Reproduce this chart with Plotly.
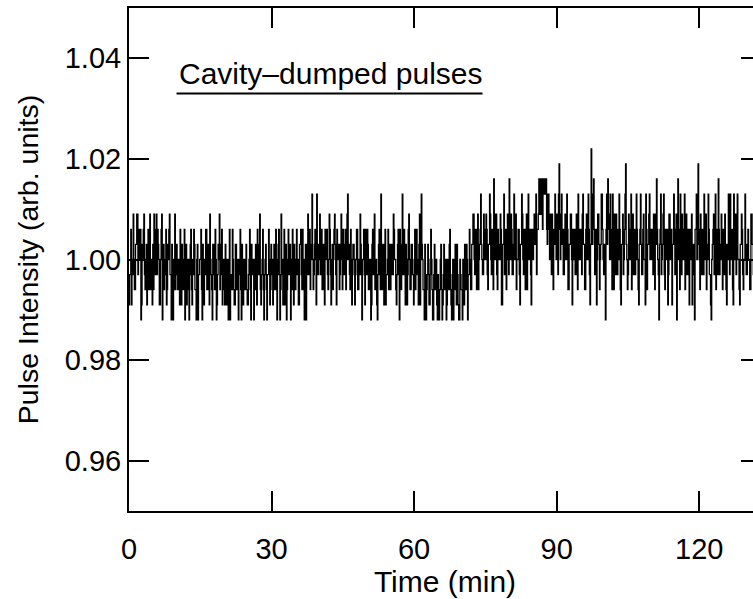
import plotly.graph_objects as go

# Sampling interval of the intensity record (minutes)
SAMPLE_INTERVAL_MIN = 0.125

# Normalised pulse intensity, read row by row (40 samples = 5 min per row)
intensity = [
    0.991,0.997,0.997,1.006,0.991,1.000,0.997,1.009,1.000,0.994,0.994,1.003,1.003,1.009,1.009,0.997,1.006,1.000,1.000,1.006,0.988,0.991,1.003,1.000,1.006,1.009,0.997,0.994,1.000,1.003,0.991,1.000,1.006,0.994,1.003,1.009,0.994,1.000,1.000,0.991,
    1.003,0.994,1.009,1.000,0.997,1.006,1.009,0.997,1.006,1.003,1.000,0.991,0.991,1.000,1.006,1.009,0.988,0.997,1.003,0.994,0.997,1.000,1.006,0.991,0.994,1.003,1.000,1.006,1.009,0.997,0.997,0.988,1.003,1.000,0.988,0.994,1.000,1.009,0.994,1.000,
    1.003,0.997,0.994,1.000,0.997,0.991,1.006,1.000,0.991,1.003,1.000,0.994,0.997,1.006,0.988,0.997,1.003,0.991,0.994,1.000,1.000,0.988,0.997,1.003,1.006,0.994,0.991,1.000,0.997,1.006,1.003,0.994,0.994,0.988,1.000,1.003,0.988,0.997,0.997,1.000,
    1.000,1.006,0.994,0.988,1.003,0.997,0.991,1.000,0.997,1.006,1.006,0.994,0.994,1.003,1.000,0.991,1.009,1.000,0.997,0.994,0.988,1.003,1.003,0.997,0.994,1.006,1.000,0.988,0.991,0.997,1.003,1.000,1.009,0.994,0.997,1.003,1.006,0.991,0.994,1.000,
    0.997,0.991,1.003,0.997,0.991,1.000,0.994,0.988,1.000,1.006,0.988,0.997,0.997,0.994,1.006,1.000,0.994,0.991,0.991,1.003,1.003,0.994,0.997,1.000,0.988,0.997,1.000,1.006,0.994,0.988,1.003,0.997,0.991,1.000,0.997,0.994,1.000,1.003,0.994,0.991,
    0.991,0.997,1.000,1.006,0.994,0.988,1.003,0.997,0.997,1.000,0.988,0.994,1.000,1.003,0.994,0.991,1.006,1.000,0.997,1.003,1.009,0.994,0.991,0.997,1.000,1.006,0.994,0.988,0.997,1.000,1.003,0.994,0.988,0.997,0.997,1.006,1.000,0.991,0.994,1.003,
    0.997,1.000,0.991,0.997,1.003,0.994,0.994,1.006,1.000,0.988,0.997,1.003,1.006,0.997,0.988,0.994,1.009,1.000,0.997,0.991,1.000,1.006,0.991,0.997,1.003,0.988,0.994,1.000,1.006,0.997,0.997,1.003,0.988,0.994,1.000,1.006,0.994,0.991,1.003,1.000,
    0.994,1.000,1.006,0.997,1.000,0.991,0.991,1.003,1.003,1.006,0.997,0.994,1.006,1.000,0.994,0.988,1.000,1.003,0.988,0.997,1.003,1.009,0.997,1.000,1.006,0.994,1.000,1.003,1.013,1.000,0.994,0.997,1.003,1.006,1.000,0.991,1.013,1.003,0.997,1.000,
    1.003,1.009,0.997,1.000,1.006,0.994,1.000,1.003,0.994,0.991,1.006,1.000,1.003,1.006,0.997,0.994,1.000,1.009,1.006,0.997,0.991,1.000,1.003,0.994,1.000,1.006,1.009,1.003,0.997,0.991,1.006,1.000,1.000,1.003,0.994,0.997,1.003,1.009,1.000,0.994,
    1.006,1.000,0.997,1.003,1.006,0.994,1.000,1.009,1.013,1.000,1.003,0.997,0.994,1.006,1.000,0.991,0.997,1.003,1.003,1.000,0.991,0.997,1.000,1.006,1.006,0.994,0.994,1.000,0.997,1.009,1.003,0.997,0.988,1.000,1.000,1.006,0.997,0.991,1.006,1.003,
    0.997,1.006,1.003,0.994,0.994,1.000,1.000,0.988,0.991,1.003,1.006,0.997,0.997,1.009,0.994,1.000,1.000,0.991,0.988,0.997,1.003,1.006,0.997,0.994,1.013,1.000,0.994,1.003,1.000,0.991,1.003,1.006,0.991,0.997,0.997,1.000,1.006,0.994,1.000,1.003,
    0.994,1.000,1.003,0.997,0.997,1.009,1.006,1.000,1.000,0.994,0.991,0.997,1.003,1.006,0.997,0.988,1.006,1.000,0.994,1.003,1.013,0.997,1.000,1.006,0.997,0.991,1.003,1.000,0.991,0.997,1.006,1.009,1.000,0.994,0.994,1.003,1.003,0.997,0.997,0.991,
    1.000,1.006,0.994,0.997,1.006,1.000,0.997,0.991,1.003,1.009,0.991,1.000,1.013,1.003,1.000,0.994,0.994,0.988,1.003,0.997,0.988,0.994,0.997,1.003,1.000,0.991,0.991,0.997,1.006,1.000,0.994,0.988,0.988,0.997,1.003,0.994,0.997,1.000,0.991,0.988,
    0.997,0.991,0.988,0.994,1.000,1.003,0.994,0.988,0.991,0.997,1.003,0.994,0.997,1.000,0.988,0.991,1.000,0.997,0.994,1.003,1.006,0.994,0.991,0.988,0.997,1.000,0.988,0.994,1.000,1.003,0.994,0.991,1.003,0.997,0.991,0.988,0.988,1.000,0.997,0.994,
    0.994,0.988,1.000,0.997,0.991,1.003,0.997,0.994,1.003,1.000,0.988,0.997,0.997,1.006,1.000,0.994,0.994,1.003,1.003,1.009,1.009,1.000,0.997,1.006,1.000,0.994,1.006,1.009,0.994,1.000,1.003,1.006,1.013,1.003,1.000,0.997,0.997,1.009,1.006,1.000,
    1.000,1.009,1.006,0.997,0.994,1.003,1.003,1.013,1.009,1.000,0.997,1.006,1.006,0.994,1.016,1.009,1.000,1.003,1.009,0.997,0.994,1.006,1.003,1.000,1.000,1.009,1.006,0.991,0.991,1.003,1.003,1.013,0.997,1.000,1.006,0.994,1.000,1.009,1.003,0.997,
    1.016,1.006,1.000,1.009,1.006,0.997,0.997,1.003,1.013,1.000,1.003,1.009,0.994,1.000,1.000,1.006,1.006,0.997,0.991,1.003,1.003,1.013,1.009,1.000,0.997,1.006,1.000,0.994,1.006,1.009,0.994,1.003,1.013,1.000,1.003,1.006,0.997,0.991,1.006,1.003,
    1.000,1.006,1.009,1.003,1.003,1.013,0.997,1.006,1.006,1.009,1.016,1.013,1.009,1.016,1.016,1.009,1.006,1.016,1.016,1.013,1.013,1.016,1.016,1.006,1.003,1.013,1.013,1.006,1.000,1.009,1.006,0.997,1.009,1.003,0.994,1.006,1.003,1.013,1.009,1.000,
    1.003,1.009,0.997,1.013,1.019,1.006,1.000,1.009,1.013,1.003,1.006,0.997,0.997,1.006,1.009,1.000,1.000,1.013,1.006,0.994,0.994,1.003,1.003,1.009,1.009,1.000,0.991,1.006,1.000,1.003,1.006,0.997,0.997,1.009,1.003,0.994,1.013,1.006,1.000,1.003,
    1.006,1.000,0.997,1.009,1.013,1.003,1.003,0.994,0.994,1.006,1.009,1.000,1.000,1.013,1.006,0.997,0.991,1.003,1.022,1.009,1.003,1.013,1.016,1.006,0.997,1.003,1.006,0.991,1.000,1.009,1.009,1.003,0.994,1.000,1.003,1.013,1.013,1.006,1.000,0.997,
    1.003,0.997,0.988,1.006,1.013,1.003,1.016,1.009,1.006,1.000,1.013,1.006,1.000,0.994,1.013,1.003,0.994,1.009,1.003,0.997,1.009,1.000,0.997,1.006,1.000,1.013,1.006,0.994,0.991,1.003,1.003,1.009,0.997,1.000,1.006,1.013,1.019,1.003,1.000,0.994,
    0.997,1.009,1.006,1.000,1.000,1.013,0.994,1.003,1.009,0.997,1.003,1.006,0.997,1.000,1.013,1.006,1.000,0.994,0.991,1.003,1.006,1.013,1.003,0.997,0.997,1.006,1.009,1.000,1.000,0.991,1.013,1.006,0.994,1.003,1.003,1.009,1.013,1.000,1.000,1.006,
    1.006,1.000,0.997,1.009,1.003,0.994,1.009,1.003,1.016,1.006,1.000,0.997,0.988,1.003,1.006,1.013,0.997,1.000,1.003,1.009,1.013,0.997,0.994,1.006,1.000,1.003,1.006,0.991,0.997,1.009,1.009,1.000,1.000,1.006,0.991,1.003,1.003,1.013,1.006,0.997,
    1.003,1.009,0.988,1.000,1.016,1.006,1.000,0.994,1.013,1.003,0.997,1.009,1.006,1.000,1.000,1.013,0.994,1.003,1.009,0.997,1.003,1.006,0.997,0.991,1.006,1.000,1.000,1.009,0.991,1.003,1.003,0.997,0.988,1.006,1.006,1.013,1.000,1.003,1.019,1.006,
    1.000,0.994,1.009,1.003,0.997,1.006,1.006,0.997,1.013,1.000,1.003,1.009,0.994,1.003,1.000,1.013,1.006,0.997,0.997,0.991,0.988,1.000,1.003,1.006,1.009,0.997,1.000,1.013,0.994,1.003,1.006,0.997,1.016,1.006,0.997,1.000,1.003,1.009,1.000,0.994,
    1.006,1.000,0.997,1.009,1.003,0.994,0.991,1.003,1.000,1.013,1.006,0.997,1.013,1.003,1.000,1.006,0.994,0.991,1.013,1.000,1.003,1.009,0.997,1.006,1.013,1.000,1.000,0.994,0.991,1.003,1.003,1.009,1.006,0.997,0.994,1.000,1.000,1.013,1.003,0.997,
    0.997,1.003,1.006,1.000,1.000,0.994,0.994,1.009,1.009,1.003,1.003,0.997,0.991,1.000,1.000,1.006,1.006,0.997,0.997,1.003,1.003,1.009,1.000,0.994,0.994,1.000,1.006,1.003,1.000,0.997,0.997,1.006,1.003,0.991,1.009,1.000,1.000,1.006,0.997,1.000,
]
time_min = [i * SAMPLE_INTERVAL_MIN for i in range(len(intensity))]

x_ticks = [0, 30, 60, 90, 120]
y_ticks = [0.96, 0.98, 1.00, 1.02, 1.04]
y_tick_labels = ["0.96", "0.98", "1.00", "1.02", "1.04"]

FONT = "Liberation Sans, Arial, Helvetica, sans-serif"

fig = go.Figure()
fig.add_trace(go.Scatter(
    x=time_min, y=intensity, mode="lines",
    line=dict(color="black", width=1.3, shape="hv"),
    showlegend=False, hoverinfo="skip",
))

axis_common = dict(
    showline=True, linecolor="black", linewidth=2, mirror="ticks",
    ticks="inside", ticklen=20, tickwidth=1.5, tickcolor="black",
    showgrid=False, zeroline=False,
    tickfont=dict(family=FONT, size=29, color="black"),
)

fig.update_layout(
    width=775, height=599,
    margin=dict(l=129, r=14, t=6, b=88),
    paper_bgcolor="white", plot_bgcolor="white",
    xaxis=dict(range=[0, 133], tickvals=x_ticks, ticklabelstandoff=11,
               title=dict(text="Time (min)", font=dict(family=FONT, size=30, color="black"), standoff=0),
               **axis_common),
    yaxis=dict(range=[0.95, 1.05], tickvals=y_ticks, ticktext=y_tick_labels, ticklabelstandoff=0,
               title=dict(text="Pulse Intensity (arb. units)", font=dict(family=FONT, size=28.5, color="black"), standoff=18),
               **axis_common),
    annotations=[dict(
        x=10.2, y=1.0369, xref="x", yref="y", xanchor="left", yanchor="middle",
        text="Cavity\u2013dumped pulses", showarrow=False,
        font=dict(family=FONT, size=30, color="black"),
    )],
    shapes=[dict(type="line", xref="x", yref="y", x0=10.0, x1=74.4, y0=1.033, y1=1.033,
                 line=dict(color="black", width=2))],
)

fig.write_html("out.html", post_script="document.documentElement.style.overflow='hidden';document.body.style.overflow='hidden';")
